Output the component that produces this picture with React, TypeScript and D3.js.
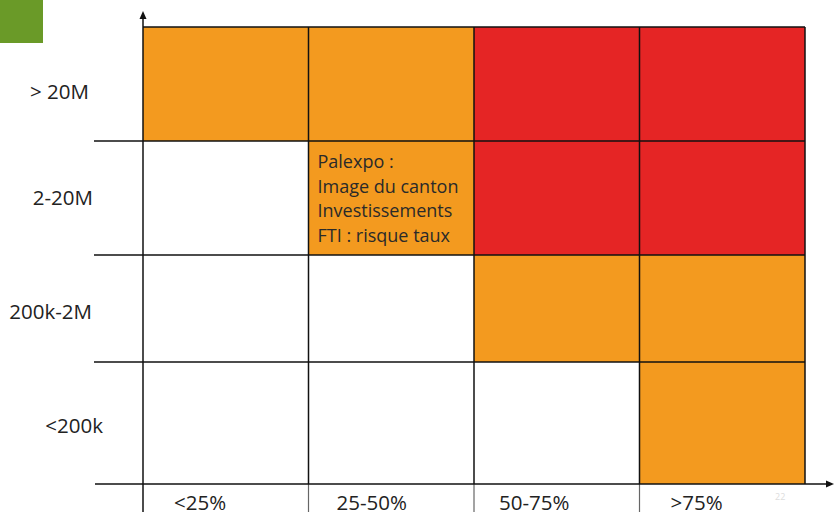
import React from "react";
import * as d3 from "d3";

const columns = ["<25%", "25-50%", "50-75%", ">75%"];
const rows = ["> 20M", "2-20M", "200k-2M", "<200k"];
// risk level per row (top to bottom) and column: 0 = none, 1 = medium, 2 = high
const riskLevels = [
  [1, 1, 2, 2],
  [0, 1, 2, 2],
  [0, 0, 1, 1],
  [0, 0, 0, 1],
];
const noteLines = ["Palexpo :", "Image du canton", "Investissements", "FTI : risque taux"];
const noteCell = { row: 1, col: 1 };
const pageNumber = "22";

const W = 834;
const H = 512;
const FONT = "'Open Sans', sans-serif";

export default function App() {
  const x = d3.scaleLinear().domain([0, 4]).range([143, 805]);
  // rows are slightly uneven in the reference
  const y = d3.scaleLinear().domain([0, 1, 2, 3, 4]).range([27, 141, 255, 362, 484]);
  const color = d3.scaleOrdinal<number, string>().domain([0, 1, 2]).range(["#ffffff", "#F39A1F", "#E52525"]);
  const rowLabelX = [89, 93, 92, 103];
  const rowLabelDy = [15, 7, 10.5, 10];
  const colLabelDx = [31, 28, 25, 31];
  const axisY = y(4);

  const cells: React.ReactNode[] = [];
  riskLevels.forEach((r, i) =>
    r.forEach((v, j) => {
      cells.push(
        <rect key={`c${i}-${j}`} x={x(j)} y={y(i)} width={x(j + 1) - x(j)} height={y(i + 1) - y(i)} fill={color(v)} />
      );
    })
  );

  return (
    <svg width={W} height={H} style={{ position: "absolute", left: 0, top: 0, display: "block", background: "#fff" }}>
      <rect x={0} y={0} width={43} height={43} fill="#6A9A28" />
      {cells}
      {[1, 2, 3].map((i) => (
        <line key={`h${i}`} x1={94} x2={x(4)} y1={y(i)} y2={y(i)} stroke="#111" strokeWidth={1.5} />
      ))}
      <line x1={x(0)} x2={x(4)} y1={y(0)} y2={y(0)} stroke="#111" strokeWidth={1.5} />
      {[1, 2, 3].map((j) => (
        <g key={`v${j}`}>
          <line x1={x(j)} x2={x(j)} y1={y(0)} y2={axisY} stroke="#111" strokeWidth={1.5} />
          <line x1={x(j)} x2={x(j)} y1={axisY} y2={H} stroke="#666" strokeWidth={1.2} />
        </g>
      ))}
      <line x1={x(4)} x2={x(4)} y1={y(0)} y2={axisY} stroke="#111" strokeWidth={1.5} />
      <line x1={x(0)} x2={x(0)} y1={17} y2={H} stroke="#111" strokeWidth={1.5} />
      <path d={`M${x(0)},11 L${x(0) - 3.5},19 L${x(0) + 3.5},19 Z`} fill="#111" />
      <line x1={95} x2={828} y1={axisY} y2={axisY} stroke="#111" strokeWidth={1.5} />
      <path d={`M834,${axisY} L826,${axisY - 3.5} L826,${axisY + 3.5} Z`} fill="#111" />
      {rows.map((r, i) => (
        <text key={r} x={rowLabelX[i]} y={(y(i) + y(i + 1)) / 2 + rowLabelDy[i]} textAnchor="end" fontFamily={FONT} fontSize={20.5} fill="#222">
          {r}
        </text>
      ))}
      {columns.map((c, j) => (
        <text key={c} x={x(j) + colLabelDx[j]} y={509.5} fontFamily={FONT} fontSize={20.5} fill="#222">
          {c}
        </text>
      ))}
      {noteLines.map((l, k) => (
        <text key={l} x={x(noteCell.col) + 9} y={y(noteCell.row) + 27 + k * 24.7} fontFamily={FONT} fontSize={18} fill="#2a2a2a">
          {l}
        </text>
      ))}
      <text x={775} y={500} fontFamily={FONT} fontSize={9} fill="#ddd">
        {pageNumber}
      </text>
    </svg>
  );
}
